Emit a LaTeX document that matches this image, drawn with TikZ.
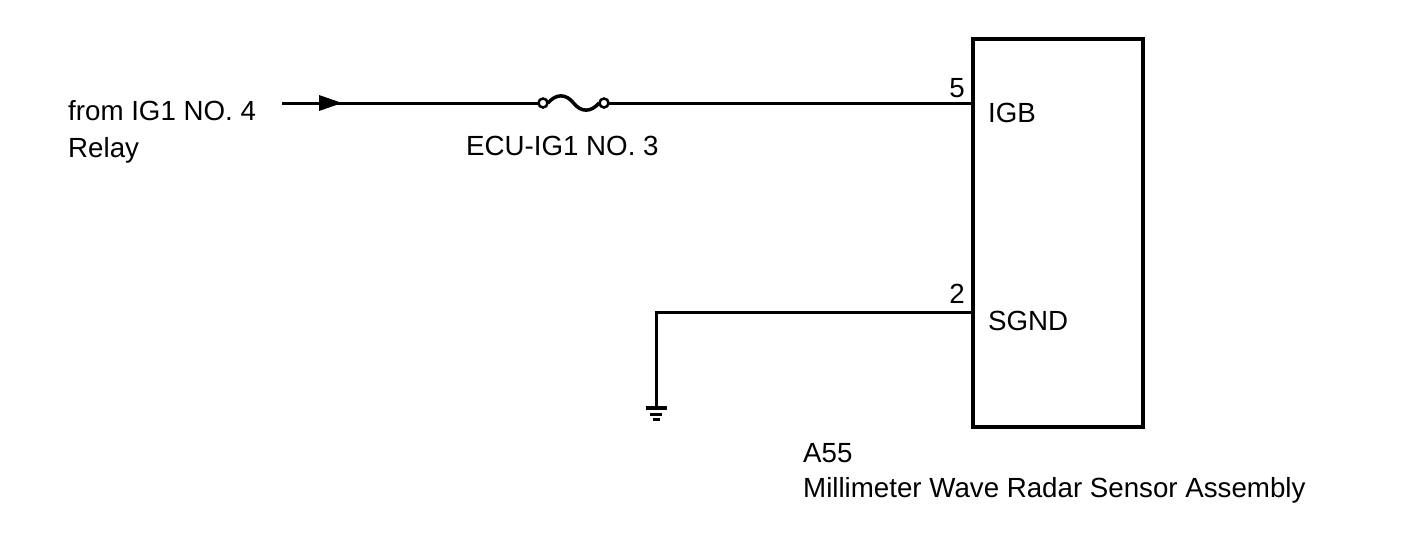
\documentclass[tikz,border=0pt]{standalone}
\usepackage{fontspec}
\setmainfont{Liberation Sans}
\usetikzlibrary{arrows}
\tikzset{
  wire/.style={line width=3pt},
  lbl/.style={inner sep=0pt, anchor=base west, font=\fontsize{27.7}{37}\selectfont},
  pinno/.style={inner sep=0pt, anchor=base east, font=\fontsize{27.7}{37}\selectfont}
}

\begin{document}
\begin{tikzpicture}[line cap=butt,line join=miter,x=1pt,y=-1pt]
		\useasboundingbox (0,0) rectangle (1421,555);
		% connector box
		\node[draw, line width=4pt, minimum width=170pt, minimum height=388pt, inner sep=0pt] (radar) at (1058,233) {};
		\coordinate (igb) at (973,103);
		\coordinate (sgnd) at (973,312);
		% input side
		\coordinate (src) at (282,103);
		\coordinate (fuseL) at (543,103);
		\coordinate (fuseR) at (604,103);
		\coordinate (gnd) at (656,408);
		\draw[wire] (src) -- ([xshift=-4.5pt]fuseL);
		\fill (319,95) -- (342,103) -- (319,111) -- cycle;
		% fuse
		\draw[line width=2.5pt] (fuseL) circle (4.5pt) (fuseR) circle (4.5pt);
		\draw[line width=3.5pt] ([xshift=5pt]fuseL) .. controls (556,93.5) and (566,93.5) .. (573.5,103) .. controls (581,112.5) and (591,112.5) .. ([xshift=-5pt]fuseR);
		\draw[wire] ([xshift=4.5pt]fuseR) -- (igb);
		% ground
		\draw[wire] (sgnd) -- (gnd |- sgnd) -- (gnd);
		\draw[line width=3.5pt] ([xshift=-10.5pt]gnd) -- ([xshift=10.5pt]gnd);
		\draw[line width=3pt] ([xshift=-6pt,yshift=-6pt]gnd) -- ([xshift=6pt,yshift=-6pt]gnd);
		\draw[line width=3pt] ([xshift=-3.5pt,yshift=-11pt]gnd) -- ([xshift=3.5pt,yshift=-11pt]gnd);
		% labels
		\node[lbl] (from) at (68,120) {from IG1 NO. 4};
		\node[lbl] (relay) at (68,157) {Relay};
		\node[lbl] (fusename) at (466,155) {ECU-IG1 NO. 3};
		\node[pinno] (pin5) at (965,97) {5};
		\node[lbl] (igbname) at (988,122) {IGB};
		\node[pinno] (pin2) at (965,303) {2};
		\node[lbl] (sgndname) at (988,330) {SGND};
		\node[lbl] (code) at (803,462) {A55};
		\node[lbl] (part) at (803,497) {Millimeter Wave Radar Sensor Assembly};
\end{tikzpicture}
\end{document}
